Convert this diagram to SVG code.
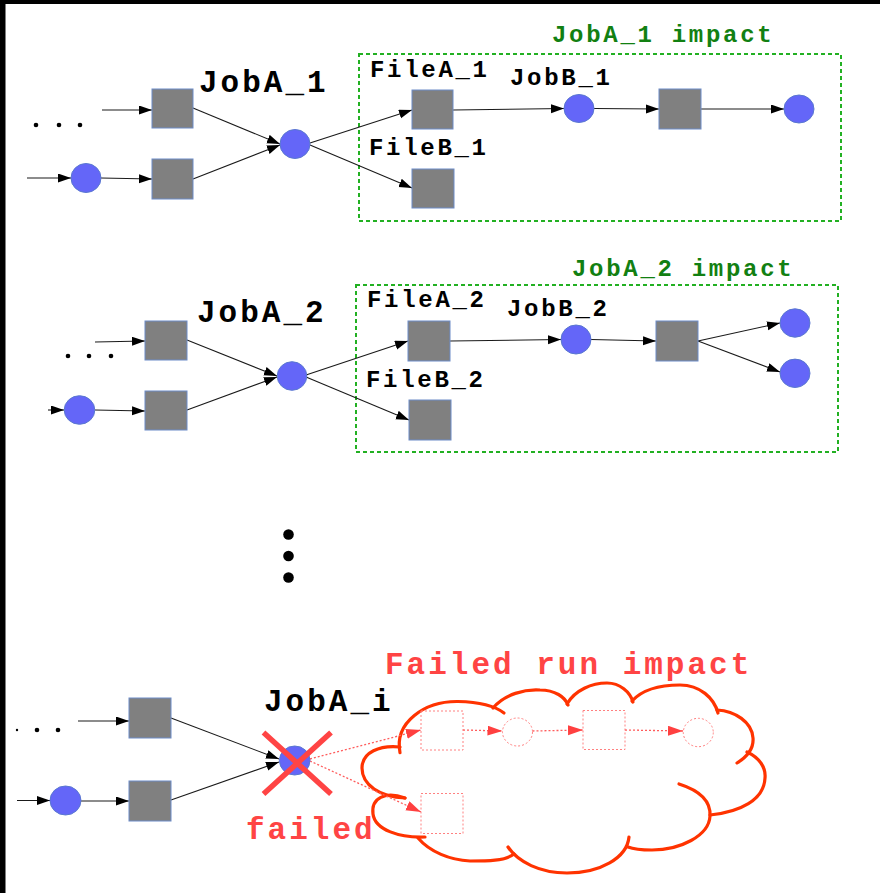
<svg xmlns="http://www.w3.org/2000/svg" width="880" height="893" viewBox="0 0 880 893">
<defs>
<marker id="ah" markerUnits="userSpaceOnUse" markerWidth="14" markerHeight="10" refX="13" refY="4.5" orient="auto"><path d="M0,0 L13,4.5 L0,9 z" fill="#000"/></marker>
<marker id="ahr" markerUnits="userSpaceOnUse" markerWidth="16" markerHeight="11" refX="15" refY="5" orient="auto"><path d="M0,0 L15,5 L0,10 z" fill="#ff4040"/></marker>
<style>
.sq{fill:#808080;stroke:#6d8cc8;stroke-width:1}
.ci{fill:#6466f8;stroke:#5a78d0;stroke-width:1}
.ln{stroke:#1a1a1a;stroke-width:1.1;fill:none;marker-end:url(#ah)}
.rl{stroke:#ff5c5c;stroke-width:1.3;stroke-dasharray:2 2;fill:none;marker-end:url(#ahr)}
.rsq{fill:none;stroke:#ff8080;stroke-width:1;stroke-dasharray:2 2}
.box{fill:none;stroke:#22b022;stroke-width:2;stroke-dasharray:4 3}
.big{font-family:"Liberation Mono","Courier New",monospace;font-weight:bold;font-size:31px;letter-spacing:3px}
.sm{font-family:"Liberation Mono","Courier New",monospace;font-weight:bold;font-size:24px;letter-spacing:2.7px}
.cloud path{fill:none;stroke:#ff3300;stroke-width:3.2;stroke-linecap:round}
</style>
</defs>
<rect width="880" height="893" fill="#fff"/>
<rect x="0" y="0" width="880" height="4" fill="#000"/>
<rect x="0" y="0" width="5.5" height="893" fill="#000"/>

<!-- boxes -->
<g id="impact1">
<rect class="box" x="359" y="54" width="482" height="167"/>
<text class="sm" x="552" y="42" fill="#128012">JobA_1 impact</text>
</g>
<g id="impact2">
<rect class="box" x="356" y="285" width="482" height="167"/>
<text class="sm" x="572" y="276" fill="#128012">JobA_2 impact</text>
</g>
<g id="impacti" class="cloud">
<path d="M400,752.7 C394,722 425,701 458,701.5 C478,702 495,706 504,713"/>
<path d="M493,708 C505,694 525,689 540,690 C555,690 565,697 568,705"/>
<path d="M567,704 C575,690 592,683 607,683 C620,683 630,692 633,702"/>
<path d="M632,701 C642,690 660,685 680,685 C700,685 714,698 718,713"/>
<path d="M717,710 C735,711 752,722 753,738 C754,750 745,758 737,763"/>
<path d="M747,752 C760,758 766,768 765,778 C764,800 740,812 710,815"/>
<path d="M679,784 C698,790 711,800 710,816 C709,836 680,850 652,850 C640,850 633,849 628,847"/>
<path d="M629,837 C627,858 600,873 567,873 C540,873 518,862 508,847"/>
<path d="M514,854 C505,861 487,861 470,861 C450,860 430,852 418,838"/>
<path d="M425,837 C400,838 375,830 373,814 C371,798 385,791 405,798"/>
<path d="M405,798 C380,797 362,785 362,768 C362,752 380,745 400,747"/>
<text class="big" x="385" y="674" fill="#ff4444">Failed run impact</text>
</g>

<!-- connectors -->
<g id="connectors">
<line class="ln" x1="102" y1="110" x2="152" y2="110"/>
<line class="ln" x1="27" y1="178" x2="71" y2="178"/>
<line class="ln" x1="101" y1="178" x2="152" y2="179"/>
<line class="ln" x1="193" y1="108" x2="280" y2="144"/>
<line class="ln" x1="193" y1="179" x2="280" y2="145"/>
<line class="ln" x1="310" y1="143" x2="412" y2="110"/>
<line class="ln" x1="310" y1="145" x2="412" y2="188"/>
<line class="ln" x1="453" y1="110" x2="564" y2="108.5"/>
<line class="ln" x1="594" y1="108.5" x2="659" y2="109"/>
<line class="ln" x1="701" y1="109" x2="784" y2="109"/>

<line class="ln" x1="95" y1="342" x2="145" y2="341"/>
<line class="ln" x1="48" y1="410" x2="64" y2="410"/>
<line class="ln" x1="95" y1="410" x2="145" y2="411"/>
<line class="ln" x1="187" y1="340" x2="277" y2="376"/>
<line class="ln" x1="187" y1="410" x2="277" y2="377"/>
<line class="ln" x1="306" y1="375" x2="408" y2="341"/>
<line class="ln" x1="306" y1="377" x2="409" y2="420"/>
<line class="ln" x1="450" y1="341" x2="561" y2="339.5"/>
<line class="ln" x1="591" y1="339.5" x2="656" y2="341"/>
<line class="ln" x1="698" y1="341" x2="780" y2="323"/>
<line class="ln" x1="698" y1="341" x2="780" y2="372"/>

<line class="ln" x1="78" y1="721" x2="129" y2="721"/>
<line class="ln" x1="17" y1="800.5" x2="50" y2="800.5"/>
<line class="ln" x1="81" y1="801" x2="129" y2="801"/>
<line class="ln" x1="171" y1="718" x2="279" y2="759"/>
<line class="ln" x1="171" y1="800" x2="279" y2="762"/>

<line class="rl" x1="310" y1="759" x2="421" y2="730"/>
<line class="rl" x1="310" y1="761" x2="421" y2="812"/>
<line class="rl" x1="463" y1="730" x2="502.5" y2="731"/>
<line class="rl" x1="532.5" y1="731" x2="583" y2="730"/>
<line class="rl" x1="625" y1="730" x2="683" y2="731"/>
</g>

<!-- section 1 -->
<g id="dots1" fill="#000"><circle cx="36" cy="125" r="2.3"/><circle cx="59" cy="125" r="2.3"/><circle cx="80" cy="125" r="2.3"/></g>
<g id="in1a"><rect class="sq" x="152" y="89" width="41" height="39"/></g>
<g id="in1b"><rect class="sq" x="152" y="159" width="41" height="40"/></g>
<g id="src1"><ellipse class="ci" cx="86" cy="178" rx="15" ry="14.5"/></g>
<g id="jobA1"><ellipse class="ci" cx="295" cy="144" rx="15" ry="14.5"/><text class="big" x="199" y="92" fill="#000">JobA_1</text></g>
<g id="fileA1"><rect class="sq" x="412" y="90" width="41" height="39"/><text class="sm" x="370" y="77" fill="#000">FileA_1</text></g>
<g id="fileB1"><rect class="sq" x="412" y="169" width="42" height="39"/><text class="sm" x="369" y="155" fill="#000">FileB_1</text></g>
<g id="jobB1"><ellipse class="ci" cx="579" cy="108.5" rx="15" ry="14"/><text class="sm" x="510" y="85" fill="#000">JobB_1</text></g>
<g id="out1"><rect class="sq" x="659" y="89" width="42" height="40"/></g>
<g id="end1"><ellipse class="ci" cx="799" cy="109" rx="15" ry="14"/></g>

<!-- section 2 -->
<g id="dots2" fill="#000"><circle cx="68" cy="356" r="2.3"/><circle cx="89" cy="356" r="2.3"/><circle cx="111" cy="356" r="2.3"/></g>
<g id="in2a"><rect class="sq" x="145" y="321" width="42" height="39"/></g>
<g id="in2b"><rect class="sq" x="145" y="391" width="42" height="39"/></g>
<g id="src2"><ellipse class="ci" cx="79.5" cy="410" rx="15.3" ry="14.3"/></g>
<g id="jobA2"><ellipse class="ci" cx="292" cy="376" rx="14.8" ry="14.3"/><text class="big" x="197" y="322" fill="#000">JobA_2</text></g>
<g id="fileA2"><rect class="sq" x="408" y="321" width="42" height="40"/><text class="sm" x="367" y="307" fill="#000">FileA_2</text></g>
<g id="fileB2"><rect class="sq" x="409" y="400" width="42" height="40"/><text class="sm" x="366" y="387" fill="#000">FileB_2</text></g>
<g id="jobB2"><ellipse class="ci" cx="576" cy="339.5" rx="15" ry="14.5"/><text class="sm" x="507" y="316" fill="#000">JobB_2</text></g>
<g id="out2"><rect class="sq" x="656" y="321" width="42" height="40"/></g>
<g id="end2a"><ellipse class="ci" cx="795" cy="323" rx="15" ry="14.2"/></g>
<g id="end2b"><ellipse class="ci" cx="795" cy="373.3" rx="15" ry="14.2"/></g>

<!-- vertical ellipsis -->
<g id="vdots" fill="#000"><circle cx="288.5" cy="534.5" r="5.3"/><circle cx="288.5" cy="556" r="5.3"/><circle cx="288.5" cy="577.5" r="5.3"/></g>

<!-- section 3 -->
<g id="dots3" fill="#000"><circle cx="17" cy="730" r="1.2"/><circle cx="37" cy="730" r="2.3"/><circle cx="58" cy="730" r="2.3"/></g>
<g id="in3a"><rect class="sq" x="129" y="698" width="42" height="40"/></g>
<g id="in3b"><rect class="sq" x="129" y="781" width="42" height="40"/></g>
<g id="src3"><ellipse class="ci" cx="65.5" cy="800.5" rx="15.5" ry="14.5"/></g>
<g id="jobAi">
<ellipse class="ci" cx="294.7" cy="760.5" rx="15.3" ry="14.5"/>
<text class="big" x="264" y="711" fill="#000">JobA_i</text>
<path d="M263.5,732.5 L331,794 M331,732.5 L263.5,794" stroke="#ff4444" stroke-width="5.5" fill="none"/>
<text class="big" x="246" y="839" fill="#ff4444">failed</text>
</g>
<g id="f1"><rect class="rsq" x="421" y="711" width="42" height="39"/></g>
<g id="f2"><ellipse class="rsq" cx="517.5" cy="732" rx="15" ry="14"/></g>
<g id="f3"><rect class="rsq" x="583" y="710.5" width="42" height="39"/></g>
<g id="f4"><ellipse class="rsq" cx="698.3" cy="732.5" rx="15" ry="14.2"/></g>
<g id="f5"><rect class="rsq" x="421" y="793.5" width="42" height="40"/></g>
</svg>
